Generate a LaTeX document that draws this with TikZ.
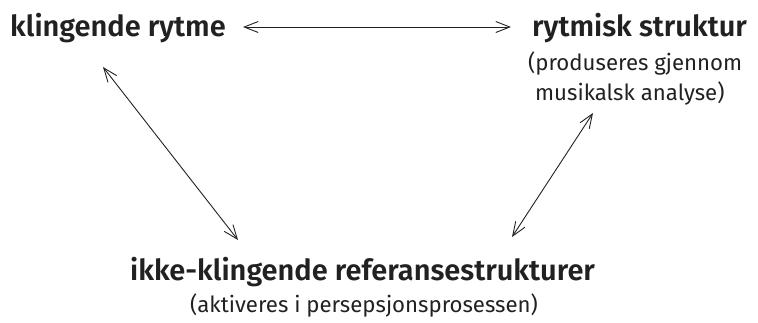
\documentclass[tikz,border=0pt]{standalone}
\usepackage{fontspec}
\setmainfont{Fira Sans}
\newfontfamily\titlefont{Fira Sans SemiBold}
\usetikzlibrary{arrows.meta}
\begin{document}
\begin{tikzpicture}[x=1pt,y=-1pt,
  title/.style={inner sep=0pt, anchor=base west, font=\fontsize{29}{33}\titlefont, text=black!87},
  sub/.style={inner sep=0pt, anchor=base west, font=\fontsize{22.2}{26}\selectfont, text=black!87},
  link/.style={draw=black!87, line width=0.9pt, {Straight Barb[length=14pt,width=11pt]}-{Straight Barb[length=14pt,width=11pt]}}]
\useasboundingbox (0,0) rectangle (758,322);
\node[title] (kr) at (10,36) {klingende rytme};
\node[title] (rs) at (532,36) {rytmisk struktur};
\node[sub] (rs1) at (528,70) {(produseres gjennom};
\node[sub] (rs2) at (535,100) {musikalsk analyse)};
\node[title] (ik) at (130,280) {ikke-klingende referansestrukturer};
\node[sub] (ik1) at (190,312) {(aktiveres i persepsjonsprosessen)};
\coordinate (t1) at (243,27);
\coordinate (t2) at (511,27);
\coordinate (l1) at (103,67);
\coordinate (l2) at (238,240);
\coordinate (r1) at (593,113);
\coordinate (r2) at (512,237);
\draw[link] (t1) -- (t2);
\draw[link] (l1) -- (l2);
\draw[link] (r1) -- (r2);
\end{tikzpicture}
\end{document}
